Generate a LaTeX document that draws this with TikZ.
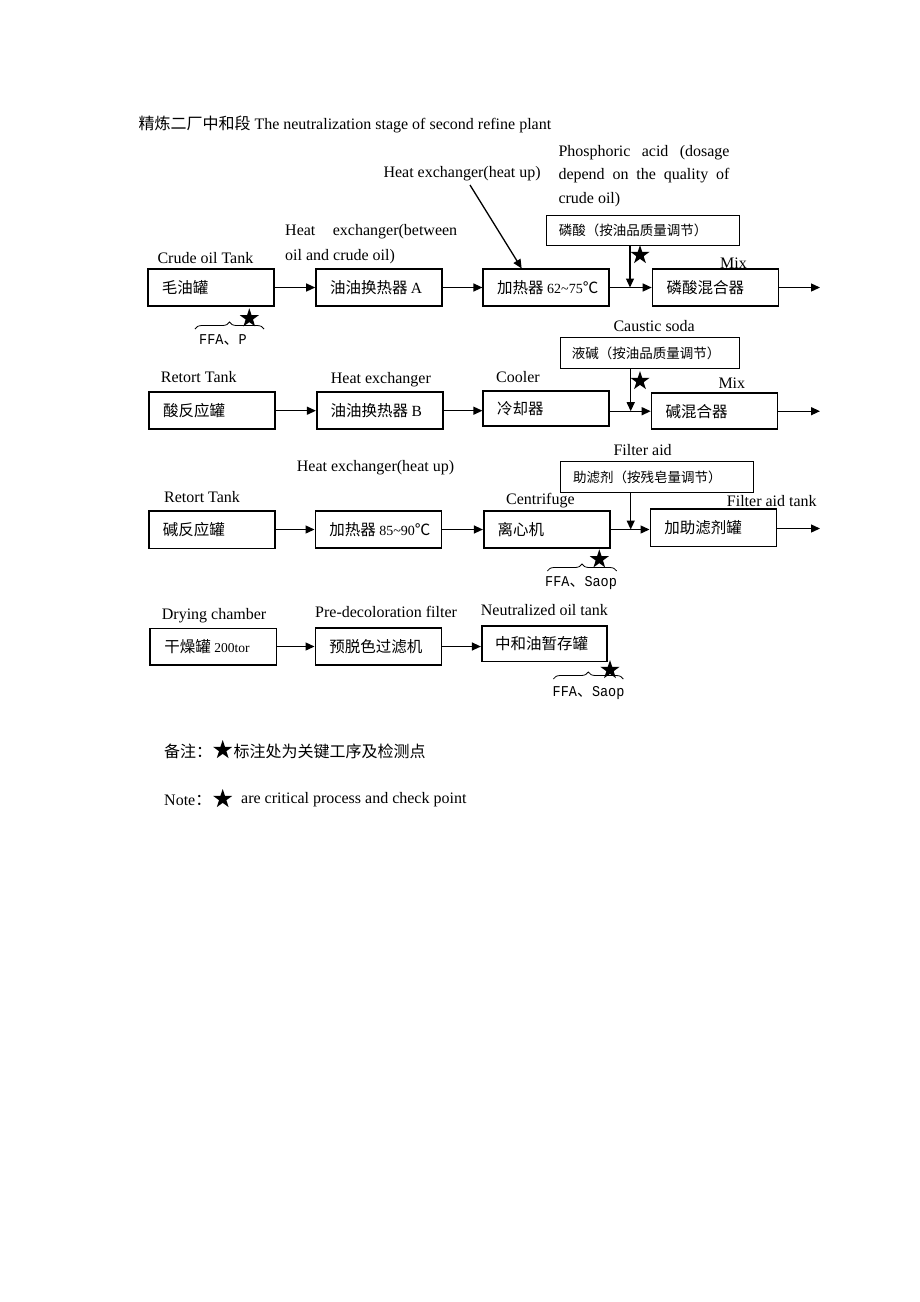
\documentclass[tikz,border=0pt]{standalone}
\usepackage{fontspec}
\setmainfont{Liberation Serif}
\newfontfamily\cjk{Noto Sans CJK SC}
\newfontfamily\monof[FakeStretch=0.9]{Liberation Mono}
\usetikzlibrary{arrows.meta,shapes.geometric,decorations.pathreplacing}
\newcommand\bxt[1]{\makebox[98pt][l]{#1}}
\newcommand\fsz[1]{\fontsize{#1}{#1}\selectfont}
\begin{document}
\begin{tikzpicture}[x=1pt,y=-1pt,
 every node/.style={inner sep=0pt, font=\fsz{16}},
 box/.style={draw, line width=1.6pt, minimum width=126pt, minimum height=37pt, font=\cjk\fsz{15.5}},
 sbox/.style={draw, line width=1pt, minimum height=30.6pt, font=\cjk\fsz{13.5}},
 lbl/.style={anchor=west},
 arr/.style={line width=1.3pt, -{Triangle[length=9pt,width=8pt]}},
 brc/.style={decorate, decoration={brace, amplitude=7pt}, line width=0.8pt},
 star5/.style={star, star points=5, star point ratio=2.6, fill=black, draw=none, minimum size=20pt, inner sep=0pt},
 ffa/.style={anchor=west, font=\monof\fsz{15}}
]
\fill[white] (0,0) rectangle (920,1302);
\useasboundingbox (0,0) rectangle (920,1302);

% title
\node[lbl] (t0) at (138.3,124) {{\cjk 精炼二厂中和段} The neutralization stage of second refine plant};

% ---------- row 1
\node[box] (b11) at (210.8,287.5) {\bxt{毛油罐}};
\node[box] (b12) at (379,287.5) {\bxt{油油换热器 {\rmfamily A}}};
\node[box] (b13) at (546.2,287.5) {\bxt{加热器 {\rmfamily\fsz{14}62\textasciitilde75}℃}};
\node[box] (b14) at (715.5,287.5) {\bxt{磷酸混合器}};
\coordinate (e1) at (820,287.5);
\draw[arr] (b11) -- (b12);
\draw[arr] (b12) -- (b13);
\draw[arr] (b13) -- (b14);
\draw[arr] (b14) -- (e1);
\node[sbox, minimum width=193.3pt] (s1) at (643.3,230.5) {\makebox[169pt][l]{磷酸（按油品质量调节）}};
\coordinate (j1) at (630,287.5);
\draw[arr] (s1.south -| j1) -- (j1);
\node[star5] (r12) at (640,255) {};
\node[star5] (r11) at (249.3,318.3) {};
\draw[brc] (195,329) -- (264,329);
\node[ffa] (f1) at (199,340) {FFA{\cjk 、}P};

\node[lbl] (l11) at (157.3,258.3) {Crude oil Tank};
\node[lbl] (l12a) at (285,231.7) {\makebox[172pt][s]{Heat exchanger(between}};
\node[lbl] (l12b) at (285,256.7) {oil and crude oil)};
\node[lbl] (l13) at (383.3,173.3) {Heat exchanger(heat up)};
\coordinate (h1) at (470,185);
\coordinate (h2) at (521.7,268.5);
\draw[arr] (h1) -- (h2);
\node[lbl] (p1) at (558.3,152.3) {\makebox[171pt][s]{Phosphoric acid (dosage}};
\node[lbl] (p2) at (558.3,175.7) {\makebox[171pt][s]{depend on the quality of}};
\node[lbl] (p3) at (558.3,200) {crude oil)};
\node[lbl] (m1) at (720,263.3) {Mix};

% ---------- row 2
\node[box] (b21) at (212.2,410.7) {\bxt{酸反应罐}};
\node[box] (b22) at (379.7,410.7) {\bxt{油油换热器 {\rmfamily B}}};
\node[box, minimum height=35pt] (b23) at (546.2,408.5) {\bxt{冷却器}};
\node[box, minimum height=36pt] (b24) at (714.5,411.2) {\bxt{碱混合器}};
\coordinate (e2) at (820,411.2);
\draw[arr] (b21) -- (b22);
\draw[arr] (b22.east) -- (b22.east -| b23.west);
\draw[arr] (b23.east |- b24.west) -- (b24.west);
\draw[arr] (b24) -- (e2);
\node[sbox, minimum width=179.3pt] (s2) at (650.3,353) {\makebox[157pt][l]{液碱（按油品质量调节）}};
\coordinate (j2) at (630.7,411.2);
\draw[arr] (s2.south -| j2) -- (j2);
\node[star5] (r2) at (640,381) {};

\node[lbl] (c2) at (613.3,326) {Caustic soda};
\node[lbl] (l21) at (160.7,376.7) {Retort Tank};
\node[lbl] (l22) at (330.7,379.3) {Heat exchanger};
\node[lbl] (l23) at (496,377.3) {Cooler};
\node[lbl] (m2) at (718.3,383.3) {Mix};

% ---------- row 3
\node[box, minimum height=37.7pt] (b31) at (211.8,529.8) {\bxt{碱反应罐}};
\node[box] (b32) at (378.3,529.5) {\bxt{加热器 {\rmfamily\fsz{14}85\textasciitilde90}℃}};
\node[box] (b33) at (546.7,529.5) {\bxt{离心机}};
\node[box, minimum height=37.7pt] (b34) at (713.3,527.8) {\bxt{加助滤剂罐}};
\coordinate (e3) at (820,528.5);
\draw[arr] (b31.east |- b32.west) -- (b32.west);
\draw[arr] (b32) -- (b33);
\draw[arr] (b33.east) -- (b33.east -| b34.west);
\draw[arr] (b34.east |- e3) -- (e3);
\node[sbox, minimum width=192.6pt] (s3) at (657,477) {\makebox[168pt][l]{助滤剂（按残皂量调节）}};
\coordinate (j3) at (630.7,529.5);
\draw[arr] (s3.south -| j3) -- (j3);
\node[star5] (r3) at (599.3,559.3) {};
\draw[brc] (547.3,571) -- (616.7,571);
\node[ffa] (f3) at (545,582.7) {FFA{\cjk 、}Saop};

\node[lbl] (l32) at (296.7,467.3) {Heat exchanger(heat up)};
\node[lbl] (l31) at (164,497.3) {Retort Tank};
\node[lbl] (l33) at (506,501) {Centrifuge};
\node[lbl] (c3) at (613.3,450) {Filter aid};
\node[lbl] (l34) at (726.7,501) {Filter aid tank};

% ---------- row 4
\node[box, minimum height=36.7pt, minimum width=126.7pt] (b41) at (213.3,646.7) {\bxt{干燥罐 {\rmfamily\fsz{13.5}200tor}}};
\node[box, minimum height=36.7pt] (b42) at (378.3,646.5) {\bxt{预脱色过滤机}};
\node[box, minimum height=35.7pt, minimum width=125pt] (b43) at (544.2,643.8) {\bxt{中和油暂存罐}};
\draw[arr] (b41.east |- b42.west) -- (b42.west);
\draw[arr] (b42.east) -- (b42.east -| b43.west);
\node[star5] (r4) at (610,670) {};
\draw[brc] (553.3,679) -- (623.3,679);
\node[ffa] (f4) at (552.5,692.7) {FFA{\cjk 、}Saop};

\node[lbl] (l41) at (161.7,615.7) {Drying chamber};
\node[lbl] (l42) at (315,611.7) {Pre-decoloration filter};
\node[lbl] (l43) at (480.7,610) {Neutralized oil tank};

% ---------- notes
\node[lbl, font=\cjk\fsz{16}] (n1) at (164,751) {备注：};
\node[star5] (ns1) at (222.7,750) {};
\node[lbl, font=\cjk\fsz{16}] (n2) at (233.3,751) {标注处为关键工序及检测点};
\node[lbl] (n3) at (164,800) {Note{\cjk ：}};
\node[star5] (ns2) at (222.7,799) {};
\node[lbl] (n4) at (241,800) {are critical process and check point};
\end{tikzpicture}
\end{document}
